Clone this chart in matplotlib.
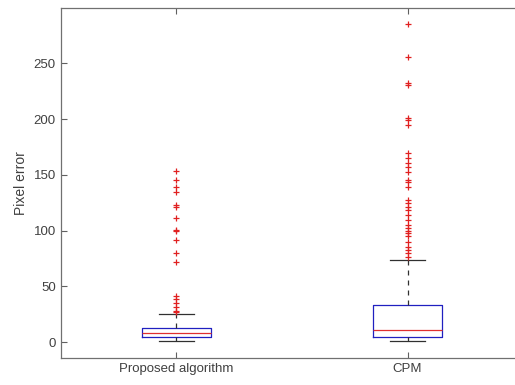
import matplotlib
matplotlib.use("Agg")
import matplotlib.pyplot as plt

plt.rcParams['font.family'] = ['Liberation Sans', 'DejaVu Sans']

# Box statistics (pixel error)
labels = ['Proposed algorithm', 'CPM']
q1 = [4.5, 4.7]
med = [8.3, 10.8]
q3 = [13.1, 33.4]
whislo = [0.9, 0.9]
whishi = [25.1, 73.7]

outliers_proposed = [153.2, 145.2, 139.2, 134.7, 123.0, 121.5, 111.4, 100.6, 99.5,
                     91.9, 80.0, 72.2, 41.8, 38.5, 34.9, 31.4, 28.3, 27.2]
outliers_cpm = [285.2, 255.9, 232.6, 230.8, 200.7, 199.2, 194.7, 169.9, 164.9,
                160.5, 157.4, 153.0, 145.5, 143.7, 139.5, 127.6, 124.6, 121.6,
                118.6, 114.2, 109.7, 105.2, 102.3, 99.3, 97.8, 94.8, 90.3, 85.8,
                82.8, 79.8, 76.8]
fliers = [outliers_proposed, outliers_cpm]

stats = []
for i in range(len(labels)):
    stats.append(dict(label=labels[i], q1=q1[i], med=med[i], q3=q3[i],
                      whislo=whislo[i], whishi=whishi[i], fliers=fliers[i]))

fig = plt.figure(figsize=(5.15, 3.85), dpi=100)
ax = fig.add_axes([0.118, 0.071, 0.898, 0.9095])

ax.bxp(stats, positions=[1, 2], widths=0.30, capwidths=0.15,
       boxprops=dict(color='#2020c0', linewidth=0.9),
       medianprops=dict(color='#e03030', linewidth=0.9),
       whiskerprops=dict(color='#303030', linewidth=0.9, linestyle=(0, (4, 4))),
       capprops=dict(color='#303030', linewidth=0.9),
       flierprops=dict(marker='+', markeredgecolor='#e02020', markersize=5,
                       markeredgewidth=0.9, linestyle='none'))

ax.set_xlim(0.5, 2.5)
ax.set_ylim(-13.8, 300)
ax.set_yticks([0, 50, 100, 150, 200, 250])
ax.set_ylabel('Pixel error', fontsize=10, color='#404040')

ax.tick_params(direction='in', length=4, width=0.8, colors='#606060',
               labelcolor='#404040', labelsize=9.5, top=True, right=False)
ax.spines['right'].set_visible(False)
for s in ax.spines.values():
    s.set_color('#707070')
    s.set_linewidth(0.9)

fig.savefig('out.png', dpi=100)
